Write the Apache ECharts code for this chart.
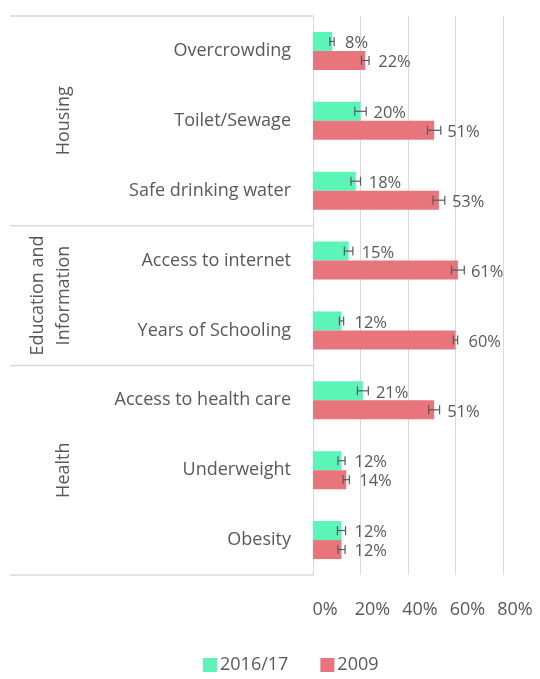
<!DOCTYPE html>
<html>
<head>
<meta charset="utf-8">
<script src="https://cdn.jsdelivr.net/npm/echarts@6/dist/echarts.min.js"></script>
<style>
html,body{margin:0;padding:0;background:#fff;}
#chart{width:540px;height:679px;}
</style>
</head>
<body>
<div id="chart"></div>
<script>
// ---- data ----
var categories = ['Overcrowding', 'Toilet/Sewage', 'Safe drinking water', 'Access to internet', 'Years of Schooling', 'Access to health care', 'Underweight', 'Obesity'];
var seriesNames = ['2016/17', '2009'];
var values2016 = [8, 20, 18, 15, 12, 21, 12, 12];
var values2009 = [22, 51, 53, 61, 60, 51, 14, 12];
var errors2016 = [0.9, 2.4, 2.0, 1.8, 0.9, 2.3, 1.5, 1.7];
var errors2009 = [1.6, 2.8, 2.5, 2.7, 0.9, 2.3, 1.3, 1.5];
var groupNames = ['Housing', 'Education and\nInformation', 'Health'];
var groupSizes = [3, 2, 3];
var xTicks = [0, 20, 40, 60, 80];

var GREEN = '#5cf5b8', RED = '#e8747c', TEXT = '#595959', GRID = '#d9d9d9';
var FONT = '"Open Sans", "Noto Sans", sans-serif';
var BAR_W = 19;

var chart = echarts.init(document.getElementById('chart'), null, {renderer: 'canvas'});

function errSeries(name, vals, errs, sign) {
  var data = vals.map(function (v, i) { return [v, i, errs[i]]; });
  return {
    type: 'custom',
    name: name + ' err',
    data: data,
    silent: true,
    z: 5,
    encode: {x: 0, y: 1},
    renderItem: function (params, api) {
      var v = api.value(0), c = api.value(1), e = api.value(2);
      var p0 = api.coord([v - e, c]);
      var p1 = api.coord([v + e, c]);
      var y = p0[1] + sign * BAR_W / 2;
      var h = 4.5;
      var st = {stroke: '#595959', lineWidth: 1.2};
      return {
        type: 'group',
        children: [
          {type: 'line', shape: {x1: p0[0], y1: y, x2: p1[0], y2: y}, style: st},
          {type: 'line', shape: {x1: p0[0], y1: y - h, x2: p0[0], y2: y + h}, style: st},
          {type: 'line', shape: {x1: p1[0], y1: y - h, x2: p1[0], y2: y + h}, style: st}
        ]
      };
    }
  };
}

var labelCfg = {
  show: true,
  position: 'right',
  distance: 13,
  offset: [0, 2],
  formatter: '{c}%',
  color: TEXT,
  fontSize: 16.5,
  fontFamily: FONT
};

var option = {
  animation: false,
  grid: {left: 313, right: 37, top: 16, bottom: 104, containLabel: false},
  legend: {
    data: seriesNames,
    top: 651,
    left: 198,
    itemWidth: 14,
    itemHeight: 14,
    itemGap: 32,
    icon: 'rect',
    textStyle: {color: TEXT, fontSize: 18, fontFamily: FONT, padding: [0, 0, 0, -2]}
  },
  xAxis: {
    type: 'value',
    min: xTicks[0],
    max: xTicks[xTicks.length - 1],
    interval: xTicks[1] - xTicks[0],
    axisLine: {show: false},
    axisTick: {show: false},
    splitLine: {lineStyle: {color: GRID, width: 1}},
    axisLabel: {
      formatter: '{value}%',
      color: TEXT,
      fontSize: 18,
      fontFamily: FONT,
      margin: 26,
      padding: [0, 0, 0, 24]
    }
  },
  yAxis: {
    type: 'category',
    inverse: true,
    data: categories,
    axisLine: {show: true, lineStyle: {color: GRID, width: 1}},
    axisTick: {show: false},
    axisLabel: {color: TEXT, fontSize: 18, fontFamily: FONT, margin: 22}
  },
  series: [
    {
      type: 'bar', name: seriesNames[0], data: values2016,
      barWidth: BAR_W, barGap: '0%',
      itemStyle: {color: GREEN},
      label: labelCfg
    },
    {
      type: 'bar', name: seriesNames[1], data: values2009,
      barWidth: BAR_W, barGap: '0%',
      itemStyle: {color: RED},
      label: labelCfg
    },
    errSeries(seriesNames[0], values2016, errors2016, -1),
    errSeries(seriesNames[1], values2009, errors2009, 1)
  ]
};
chart.setOption(option);

// ---- group separators and group labels, positioned from the axis scale ----
var c0 = chart.convertToPixel({yAxisIndex: 0}, 0);
var c1 = chart.convertToPixel({yAxisIndex: 0}, 1);
var band = c1 - c0;
var xZero = chart.convertToPixel({xAxisIndex: 0}, 0);
var lineLeft = 10;
var graphics = [];
var start = 0;
function boundaryY(idx) { return c0 + (idx - 0.5) * band; }
graphics.push({type: 'line', shape: {x1: lineLeft, y1: boundaryY(0), x2: xZero, y2: boundaryY(0)}, style: {stroke: GRID, lineWidth: 1.5}});
groupSizes.forEach(function (n, gi) {
  var end = start + n;
  var yTop = boundaryY(start), yBot = boundaryY(end);
  graphics.push({type: 'line', shape: {x1: lineLeft, y1: yBot, x2: xZero, y2: yBot}, style: {stroke: GRID, lineWidth: 1.5}});
  graphics.push({
    type: 'text',
    x: gi === 1 ? 51 : 64,
    y: (yTop + yBot) / 2,
    rotation: Math.PI / 2,
    style: {
      text: groupNames[gi],
      fill: TEXT,
      font: '18px ' + FONT,
      align: 'center',
      verticalAlign: 'middle',
      lineHeight: 26
    }
  });
  start = end;
});
chart.setOption({graphic: graphics});
</script>
</body>
</html>
